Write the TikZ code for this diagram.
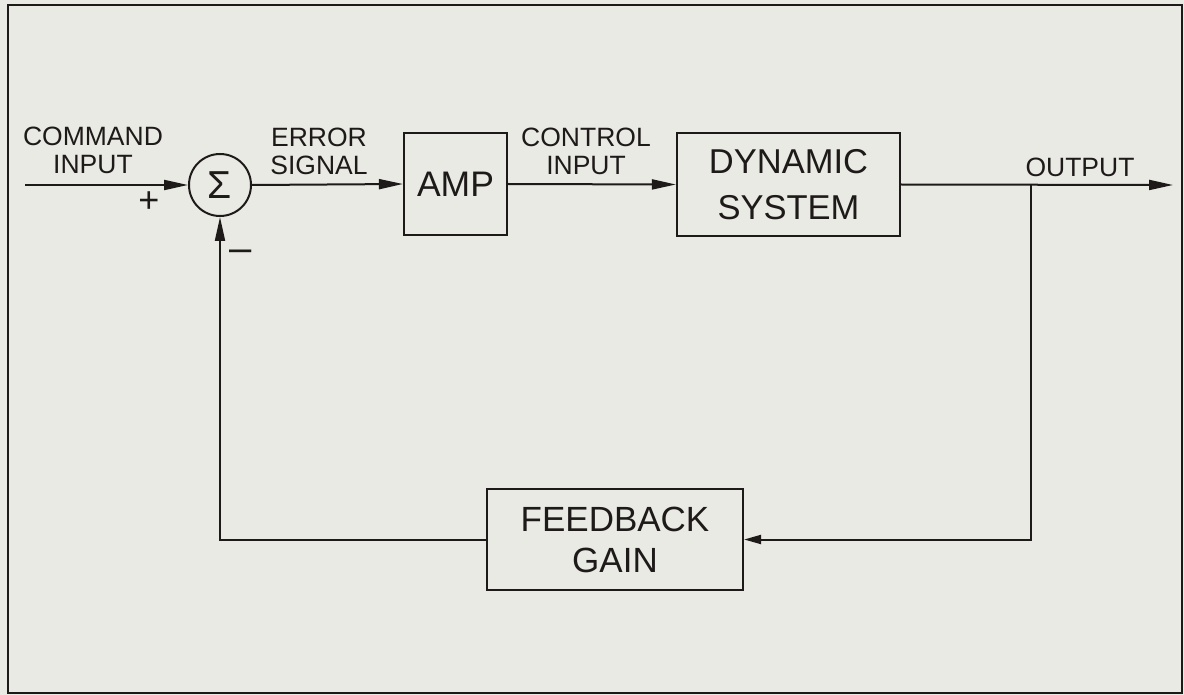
\documentclass[tikz,border=0pt]{standalone}
\usepackage{fontspec}
\setmainfont{Liberation Sans}
\usetikzlibrary{arrows.meta,calc}
\definecolor{paper}{RGB}{233,234,227}
\definecolor{ink}{RGB}{30,26,26}
\begin{document}
\begin{tikzpicture}[x=1pt,y=-1pt,
  line width=2pt, draw=ink, text=ink,
  blk/.style={draw=ink, line width=2.2pt, rectangle, inner sep=0pt},
  lbl/.style={align=center, inner sep=0pt, font=\fontsize{26.5}{28}\selectfont},
  sig/.style={-{Triangle[length=24pt,width=10pt]}},
  sigs/.style={-{Triangle[length=17pt,width=9pt]}}]
\useasboundingbox[fill=paper] (0,0) rectangle (1184,695);
\draw[line width=2pt] (8,5) rectangle (1182,693);
% blocks
\node[draw=ink, line width=2pt, circle, minimum size=62pt, inner sep=0pt,
      font=\fontsize{39}{39}\selectfont] (sum) at (220,185) {Σ};
\node[blk, minimum width=103pt, minimum height=102pt,
      font=\fontsize{35.5}{40}\selectfont] (amp) at (455.5,184) {AMP};
\node[blk, minimum width=223pt, minimum height=103pt, align=center,
      font=\fontsize{34.5}{46}\selectfont] (dyn) at (788.5,184.5) {DYNAMIC\\SYSTEM};
\node[blk, minimum width=256pt, minimum height=101pt, align=center,
      font=\fontsize{35}{41}\selectfont] (fb) at (615,539.5) {FEEDBACK\\GAIN};
% free ends
\coordinate (cmd) at (25,185);
\coordinate (out) at (1173,185);
\coordinate (br) at (1031,185);
% connectors
\draw[sig] (cmd) -- (sum.west);
\draw[sig] (sum.east) -- (amp.west);
\draw[sig] (amp.east) -- (dyn.west);
\draw[sig] (dyn.east) -- (out);
\draw[sigs] (br) |- (fb.east);
\draw[sig] (fb.west) -| (sum.south);
% labels
\node[lbl] (lcmd) at (93,150) {COMMAND\\INPUT};
\node[lbl] (lerr) at (319,151) {ERROR\\SIGNAL};
\node[lbl] (lctl) at (586,151) {CONTROL\\INPUT};
\node[lbl] (lout) at (1080,167) {OUTPUT};
\node[inner sep=0pt, font=\fontsize{36}{36}\selectfont] (plus) at (149,202) {+};
\node[inner sep=0pt, font=\fontsize{40}{40}\selectfont] (minus) at (241,256) {–};
\end{tikzpicture}
\end{document}
